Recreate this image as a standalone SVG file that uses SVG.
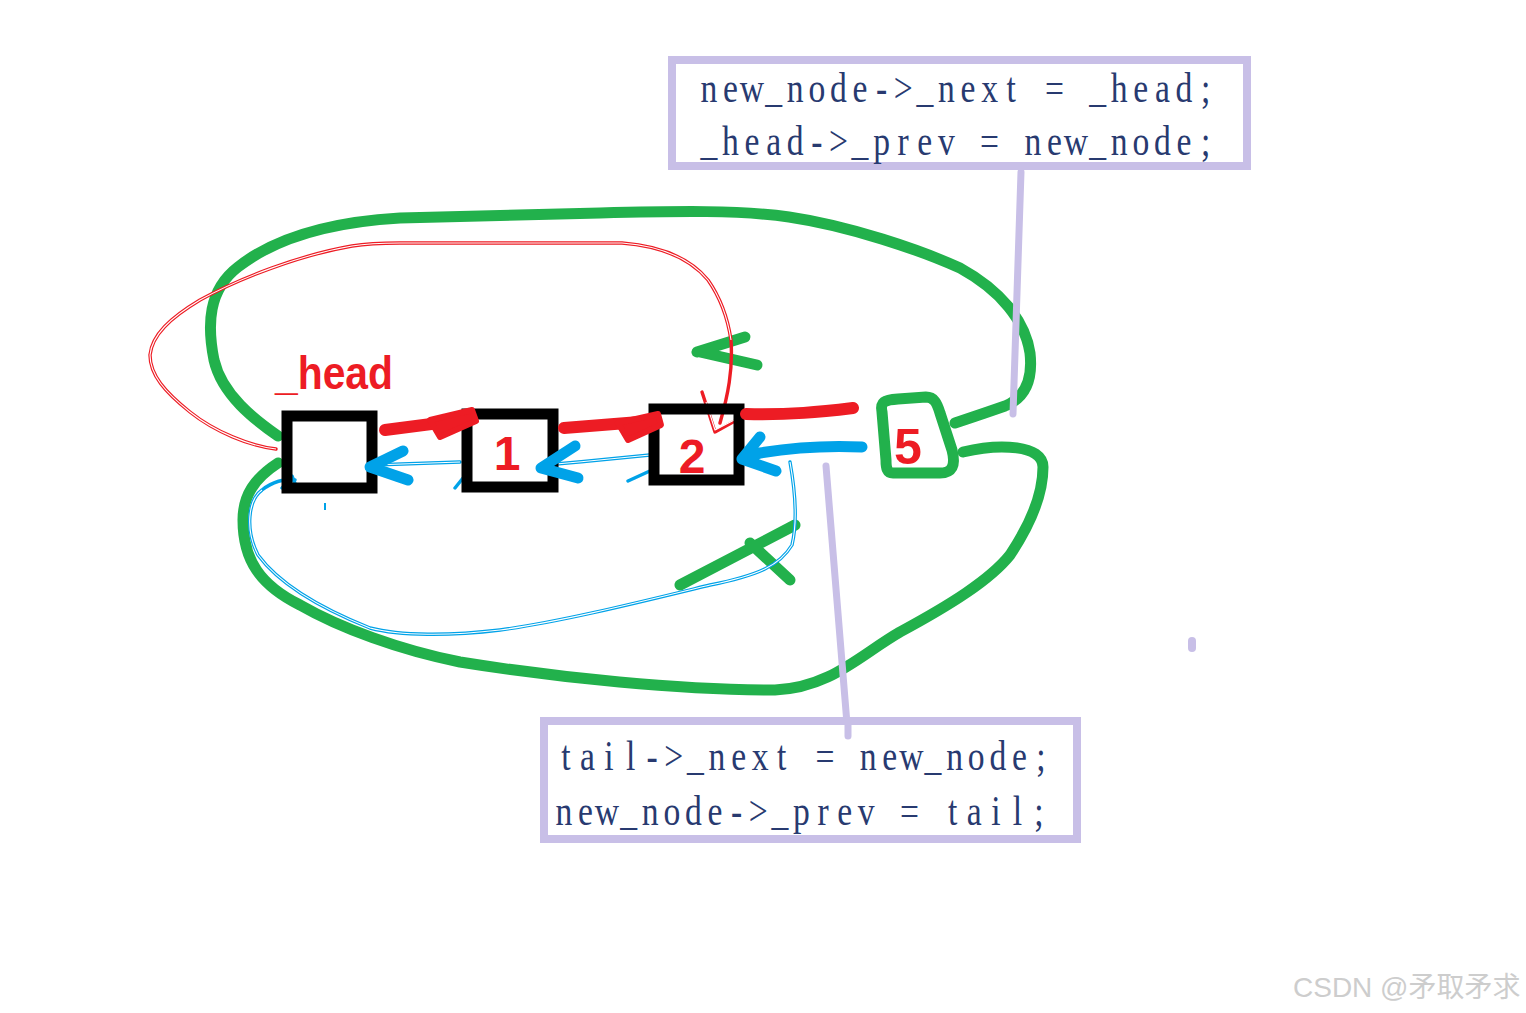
<svg xmlns="http://www.w3.org/2000/svg" width="1526" height="1013" viewBox="0 0 1526 1013">
<style>
.g{fill:none;stroke:#22b14c;stroke-width:11;stroke-linecap:round;stroke-linejoin:round}
.rt{fill:none;stroke:#ed1c24;stroke-width:12;stroke-linecap:round;stroke-linejoin:round}
.bt{fill:none;stroke:#00a2e8;stroke-width:11;stroke-linecap:round;stroke-linejoin:round}
.rthin{fill:none;stroke:#ed1c24;stroke-width:3.4;stroke-linecap:round;stroke-linejoin:round}
.bthin{fill:none;stroke:#00a2e8;stroke-width:3.4;stroke-linecap:round;stroke-linejoin:round}
.gap{fill:none;stroke:#ffffff;stroke-width:1.1;stroke-linecap:butt;stroke-linejoin:round}
.lav{fill:none;stroke:#c8bfe7;stroke-width:7;stroke-linecap:round}
.box{fill:none;stroke:#000000;stroke-width:11}
.note{fill:#ffffff;stroke:#c8bfe7;stroke-width:8}
.lbl{font-family:"Liberation Sans",Arial,sans-serif;font-weight:bold;fill:#ed1c24;text-anchor:middle}
.code{font-family:"Liberation Serif","Times New Roman",serif;font-size:42px;fill:#283a70;text-anchor:middle}
.wm{font-family:"Liberation Sans","Noto Sans CJK SC",sans-serif;font-size:28px;fill:#cdcdcd}
</style>
<rect width="1526" height="1013" fill="#ffffff"/>

<g id="connectors">
  <path class="g" d="M278,436 C255,420 222,395 214,360 C207,325 208,290 238,267 C275,238 330,222 400,218 L600,213 C680,211 740,210 789,217 C850,226 920,250 960,268 C1000,290 1025,320 1030,353 C1033,380 1025,398 1005,406 C985,413 970,418 955,423"/>
  <path class="g" d="M278,463 C255,478 243,495 243,520 C243,560 260,585 300,605 C340,628 400,650 460,662 C560,678 680,690 775,690 C830,688 860,655 900,632 C950,605 990,580 1010,555 C1030,525 1043,495 1043,467 C1043,445 1000,443 963,452"/>
  <path class="g" d="M745,337 L697,352 M700,352 L757,365"/>
  <path class="g" d="M680,585 L795,525 M750,543 L790,580"/>

  <path class="rthin" d="M276,449 C250,446 215,432 190,412 C165,392 150,375 150,355 C152,335 170,318 200,300 C240,278 300,255 352,246 C370,243 385,243 400,243 L622,243 C660,246 690,258 708,280 C722,300 728,320 731,340 C733,370 728,395 720,423"/>
  <path class="gap" d="M276,449 C250,446 215,432 190,412 C165,392 150,375 150,355 C152,335 170,318 200,300 C240,278 300,255 352,246 C370,243 385,243 400,243 L622,243 C660,246 690,258 708,280 C722,300 728,320 731,340"/>
  <path class="rthin" d="M702,392 L715,432 L742,417"/>
  <path class="gap" d="M706,402 L715,430 L738,418"/>

  <path class="bthin" d="M790,462 C795,490 798,520 792,545 C780,565 760,575 710,585 C640,602 560,622 500,630 C450,636 400,636 370,628 C320,608 280,585 258,555 C245,530 248,500 262,490 C272,482 285,478 295,480"/>
  <path class="gap" d="M790,462 C795,490 798,520 792,545 C780,565 760,575 710,585 C640,602 560,622 500,630 C450,636 400,636 370,628 C320,608 280,585 258,555 C245,530 248,500 262,490"/>
  <path class="bthin" d="M373,465 L460,462 M545,465 C580,462 620,458 650,455 M628,481 L652,470 M455,488 L463,478 M282,488 L292,476 L296,486"/>
  <path class="gap" d="M373,465 L460,462 M545,465 C580,462 620,458 650,455"/>
  <path d="M325,503 L325,510" stroke="#00a2e8" stroke-width="2"/>
</g>

<g id="node-head">
  <rect class="box" x="287" y="416" width="85" height="72"/>
  <text class="lbl" x="334" y="389" font-size="46" textLength="118" lengthAdjust="spacingAndGlyphs">_head</text>
</g>
<g id="node-1">
  <rect class="box" x="467" y="414" width="86" height="73"/>
  <text class="lbl" x="507" y="470" font-size="48">1</text>
</g>
<g id="node-2">
  <rect class="box" x="654" y="409" width="85" height="71"/>
  <text class="lbl" x="692" y="473" font-size="48">2</text>
</g>
<g id="node-5">
  <path class="g" stroke-width="10" d="M882,412 C880,402 884,400 898,399 L926,397 C934,397 937,403 940,413 L952,450 C956,466 952,473 940,473 L893,473 C887,473 886,468 886,460 Z"/>
  <text class="lbl" x="908" y="464" font-size="50">5</text>
</g>

<g id="arrows">
  <path class="rt" d="M385,430 L470,419"/>
  <path d="M430,420 L472,410 L476,421 L440,437 Z" fill="#ed1c24" stroke="#ed1c24" stroke-width="6" stroke-linejoin="round"/>
  <path class="rt" d="M564,428 L652,421"/>
  <path d="M618,423 L658,414 L661,425 L628,440 Z" fill="#ed1c24" stroke="#ed1c24" stroke-width="6" stroke-linejoin="round"/>
  <path class="rt" d="M746,414 C790,415 820,412 853,408"/>
  <path class="bt" d="M403,451 L370,467 L408,480"/>
  <path class="bt" d="M575,446 L541,468 L578,478"/>
  <path class="bt" d="M862,447 C820,445 790,448 760,453 L742,459 M760,437 L742,459 L776,471"/>
</g>

<g id="note-lines">
  <path class="lav" d="M1021,172 L1013,414"/>
  <path class="lav" d="M826,466 L848,736"/>
  <rect x="1188" y="637" width="8" height="15" rx="4" fill="#c8bfe7"/>
</g>

<g id="note-top">
  <rect class="note" x="672" y="60" width="575" height="106"/>
  <g transform="translate(708.8,0) scale(0.8,1)">
    <text class="code" y="102" x="0 27 54 81 108 135 162 189 216 243 270 297 324 351 378 405 432 459 486 513 540 567 594 621">new_node-&gt;_next = _head;</text>
    <text class="code" y="155" x="0 27 54 81 108 135 162 189 216 243 270 297 324 351 378 405 432 459 486 513 540 567 594 621">_head-&gt;_prev = new_node;</text>
  </g>
</g>
<g id="note-bottom">
  <rect class="note" x="544" y="721" width="533" height="118"/>
  <g transform="translate(565.8,0) scale(0.8,1)">
    <text class="code" y="770" x="0 27 54 81 108 135 162 189 216 243 270 297 324 351 378 405 432 459 486 513 540 567 594">tail-&gt;_next = new_node;</text>
  </g>
  <g transform="translate(563.8,0) scale(0.8,1)">
    <text class="code" y="825" x="0 27 54 81 108 135 162 189 216 243 270 297 324 351 378 405 432 459 486 513 540 567 594">new_node-&gt;_prev = tail;</text>
  </g>
</g>
<path class="lav" d="M848,721 L848,736"/>

<text class="wm" x="1293" y="997">CSDN @矛取矛求</text>
</svg>
